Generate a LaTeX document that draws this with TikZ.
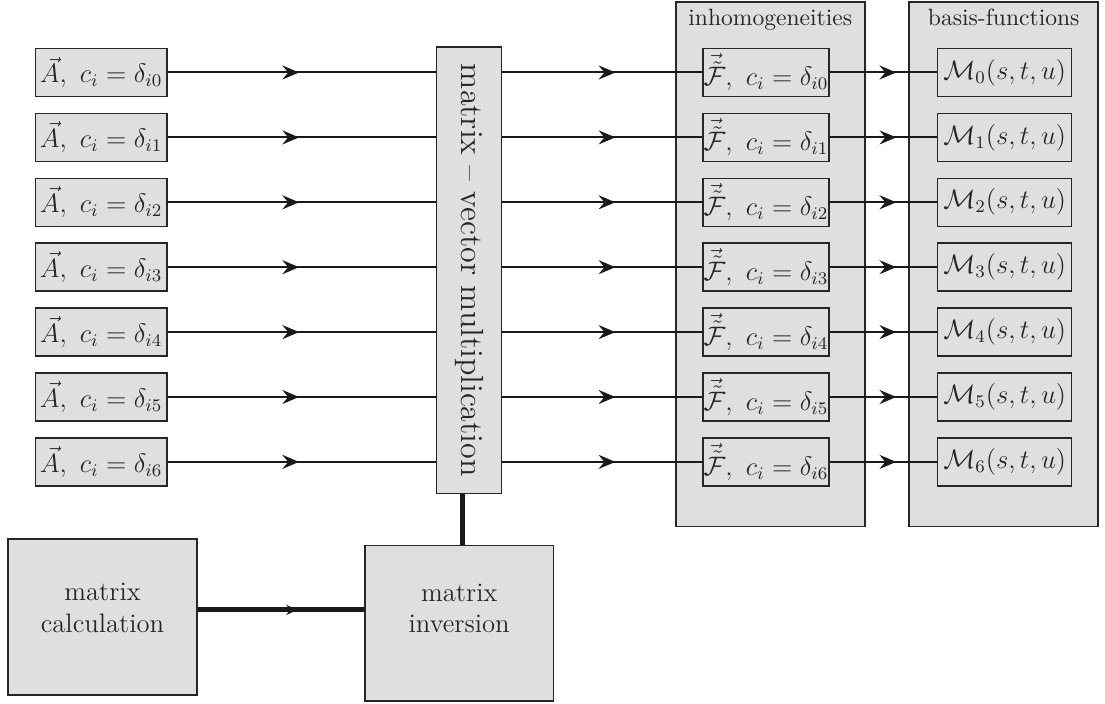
\documentclass[tikz,border=0pt]{standalone}
\usetikzlibrary{positioning, arrows.meta, decorations.markings, calc}

\newcommand{\boxtext}[3]{\raisebox{#1}[0pt][0pt]{\begin{tabular}{@{}c@{}}#2\\#3\end{tabular}}}

\begin{document}
\begin{tikzpicture}[
  x=0.45pt, y=-0.45pt,
  box/.style={draw=black!85, fill=gray!25, line width=0.7pt, inner sep=1pt, text=black!85},
  abox/.style={box, minimum width=59pt, minimum height=21.6pt, font=\large},
  fbox/.style={box, minimum width=55.5pt, minimum height=21.6pt, inner sep=0.3pt, font=\large},
  mbox/.style={box, minimum width=60.3pt, minimum height=21.6pt, font=\large},
  bigbox/.style={box, minimum width=84.8pt, minimum height=70pt, font=\large},
  group/.style={box, minimum width=85pt, minimum height=236pt},
  grouplabel/.style={anchor=north, text=black!85, font=\fontsize{10.6}{12.6}\selectfont},
  flow/.style={line width=0.9pt, draw=black!90},
  bold/.style={line width=2.3pt, draw=black!90},
  midarrow/.style={postaction={decorate, decoration={markings,
    mark=at position #1 with {\arrow{Stealth[length=7.5pt, width=6.3pt, inset=2.6pt]}}}}},
  boldarrow/.style={postaction={decorate, decoration={markings,
    mark=at position #1 with {\arrow{Stealth[length=5pt, width=4.5pt, inset=1.5pt]}}}}}
]
\useasboundingbox (0,0) rectangle (1105,704);

% the two groups in the background
\node[group] (inh) at (770.3,264.4) {};
\node[group] (bas) at (1003.7,264.4) {};
\node[grouplabel] (inhlabel) at (inh.north) {inhomogeneities};
\node[grouplabel] (baslabel) at (bas.north) {basis-functions};

% matrix - vector multiplication (rotated: south is left, north is right, east is bottom)
\node[box, rotate=-90, minimum width=201pt, minimum height=29.25pt, font=\Large] (mvm) at (469.2,270.3)
  {matrix -- vector multiplication};

% one row per c_i
\foreach \k in {0,...,6} {
  \node[abox] (a\k) at (101.2,72.5+64.9*\k) {$\vec{A},\ c_i=\delta_{i\k}$};
  \node[fbox] (f\k) at (766,72.5+64.9*\k) {$\vec{\tilde{\mathcal{F}}},\ c_i=\delta_{i\k}$};
  \node[mbox] (m\k) at (1004.7,72.5+64.9*\k) {$\mathcal{M}_\k(s,t,u)$};
  \draw[flow, midarrow=0.49] (a\k.east) -- (a\k.east -| mvm.south);
  \draw[flow, midarrow=0.565] (a\k.east -| mvm.north) -- (f\k.west);
  \draw[flow, midarrow=0.62] (f\k.east) -- (m\k.west);
}

% matrix calculation and inversion
\node[bigbox] (calc) at (102.5,617) {\boxtext{0pt}{matrix}{calculation}};
\node[bigbox] (inv) at (459.2,623.2) {\boxtext{2.5pt}{matrix}{inversion}};
\draw[bold, boldarrow=0.6] ([yshift=3.2pt]calc.east) -- ([yshift=3.2pt]calc.east -| inv.west);
\draw[bold] ([xshift=1.6pt]inv.north) -- ([xshift=1.6pt]inv.north |- mvm.east);

\end{tikzpicture}
\end{document}
